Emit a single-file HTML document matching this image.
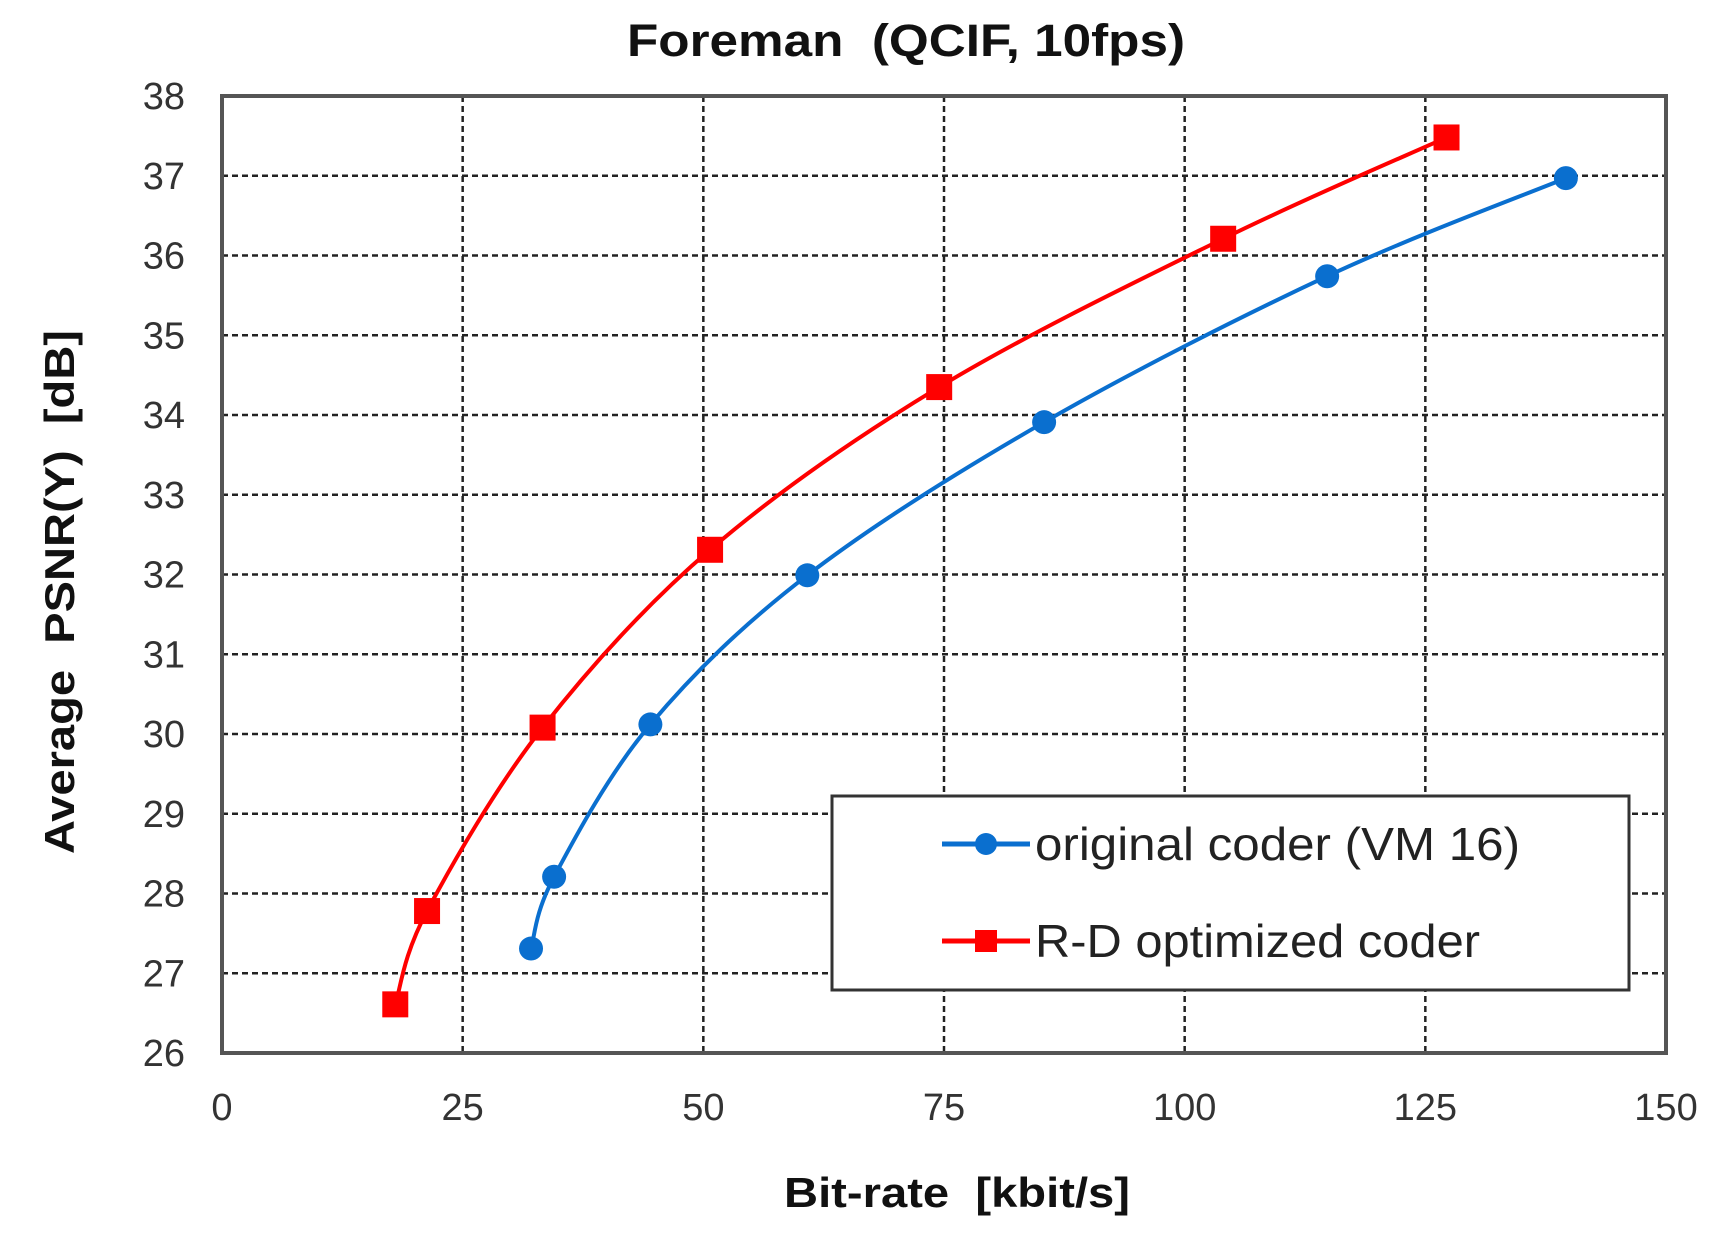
<!DOCTYPE html>
<html><head><meta charset="utf-8"><style>
html,body{margin:0;padding:0;background:#fff;}
svg{display:block;}
text{font-family:"Liberation Sans",Arial,sans-serif;}
</style></head><body>
<svg id="s" width="1728" height="1241" viewBox="0 0 1728 1241" xmlns="http://www.w3.org/2000/svg">
<rect width="1728" height="1241" fill="#fff"/>
<g id="grid" stroke="#222" stroke-width="2.5" stroke-dasharray="6,4"></g>
<rect x="222" y="96" width="1444" height="957" fill="none" stroke="#555" stroke-width="4"/>
<g id="labels" font-size="38" fill="#333"></g>
<text x="906" y="56" font-size="45" font-weight="bold" text-anchor="middle" fill="#111" xml:space="preserve" textLength="558" lengthAdjust="spacingAndGlyphs">Foreman  (QCIF, 10fps)</text>
<text x="957" y="1207" font-size="42" font-weight="bold" text-anchor="middle" fill="#111" xml:space="preserve" textLength="346" lengthAdjust="spacingAndGlyphs">Bit-rate  [kbit/s]</text>
<text transform="translate(74,592) rotate(-90)" font-size="42" font-weight="bold" text-anchor="middle" fill="#111" xml:space="preserve" textLength="524" lengthAdjust="spacingAndGlyphs">Average  PSNR(Y)  [dB]</text>
<g id="series"></g>
<rect x="832" y="796" width="797" height="194" fill="#fff" stroke="#333" stroke-width="3"/>
<line x1="942" y1="844" x2="1030" y2="844" stroke="#0a6fcf" stroke-width="5"/>
<circle cx="986" cy="844" r="11" fill="#0a6fcf"/>
<line x1="942" y1="941" x2="1030" y2="941" stroke="#ff0000" stroke-width="5"/>
<rect x="975" y="930" width="22" height="22" fill="#ff0000"/>
<text x="1035" y="860" font-size="46" fill="#222" textLength="485" lengthAdjust="spacingAndGlyphs">original coder (VM 16)</text>
<text x="1035" y="957" font-size="46" fill="#222" textLength="445" lengthAdjust="spacingAndGlyphs">R-D optimized coder</text>
</svg>
<script>
var NS="http://www.w3.org/2000/svg";
function X(v){return 222+v*1444/150;}
function Y(v){return 1053-(v-26)*957/12;}
function el(p,t,a){var e=document.createElementNS(NS,t);for(var k in a)e.setAttribute(k,a[k]);p.appendChild(e);return e;}
var g=document.getElementById('grid'),L=document.getElementById('labels'),S=document.getElementById('series');
for(var i=25;i<150;i+=25)el(g,'line',{x1:X(i),y1:96,x2:X(i),y2:1053});
for(var j=27;j<38;j++)el(g,'line',{x1:222,y1:Y(j),x2:1666,y2:Y(j)});
for(var j=26;j<=38;j++){var t=el(L,'text',{x:185,y:Y(j)+13,'text-anchor':'end'});t.textContent=j;}
for(var i=0;i<=150;i+=25){var t=el(L,'text',{x:X(i),y:1120,'text-anchor':'middle'});t.textContent=i;}
var red=[[18,26.61],[21.3,27.78],[33.3,30.08],[50.7,32.31],[74.5,34.35],[104,36.21],[127.2,37.48]];
var blue=[[32.1,27.31],[34.5,28.21],[44.5,30.12],[60.8,31.99],[85.4,33.91],[114.8,35.74],[139.6,36.97]];
function path(d){var p=d.map(function(a){return [X(a[0]),Y(a[1])];});var s='M'+p[0][0]+','+p[0][1];
for(var i=0;i<p.length-1;i++){var p0=p[i-1]||p[i],p1=p[i],p2=p[i+1],p3=p[i+2]||p2;
s+=' C'+(p1[0]+(p2[0]-p0[0])/6)+','+(p1[1]+(p2[1]-p0[1])/6)+' '+(p2[0]-(p3[0]-p1[0])/6)+','+(p2[1]-(p3[1]-p1[1])/6)+' '+p2[0]+','+p2[1];}
return s;}
el(S,'path',{d:path(red),fill:'none',stroke:'#ff0000','stroke-width':4});
el(S,'path',{d:path(blue),fill:'none',stroke:'#0a6fcf','stroke-width':4});
red.forEach(function(a){el(S,'rect',{x:X(a[0])-13,y:Y(a[1])-13,width:26,height:26,fill:'#ff0000'});});
blue.forEach(function(a){el(S,'circle',{cx:X(a[0]),cy:Y(a[1]),r:12,fill:'#0a6fcf'});});
</script>
</body></html>
